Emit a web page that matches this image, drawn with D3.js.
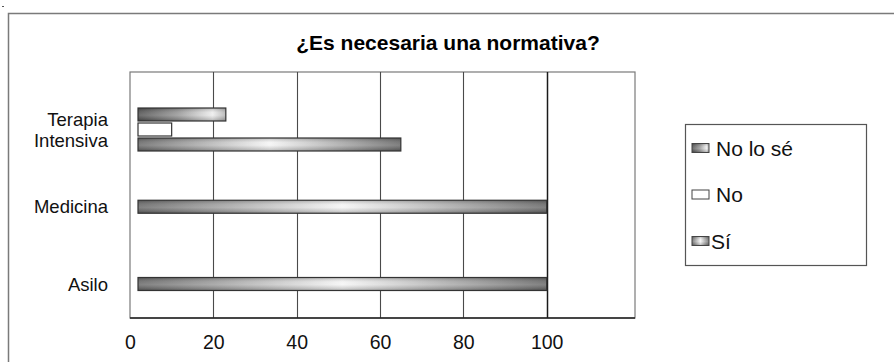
<!DOCTYPE html>
<html>
<head>
<meta charset="utf-8">
<script src="https://cdn.jsdelivr.net/npm/d3@7"></script>
<style>
  html, body { margin: 0; padding: 0; background: #fff; }
  svg { display: block; font-family: "Liberation Sans", Arial, sans-serif; }
</style>
</head>
<body>
<svg id="chart" width="894" height="362"></svg>
<script>
// Survey answers per ward (percent)
const categories = ["Terapia Intensiva", "Medicina", "Asilo"];
const seriesNames = ["No lo sé", "No", "Sí"];
const noLoSe = [23, 0, 0];
const noValues = [10, 0, 0];
const siValues = [65, 100, 100];
const xTicks = [0, 20, 40, 60, 80, 100];
const title = "¿Es necesaria una normativa?";

const seriesValues = [noLoSe, noValues, siValues];

const svg = d3.select("#chart");
const W = 894, H = 362;

// plot frame
const plot = { left: 130, top: 72, right: 635, bottom: 318 };

// gradients for the bar fills
const defs = svg.append("defs");
const gSi = defs.append("linearGradient").attr("id", "gradSi")
  .attr("x1", "0").attr("x2", "1").attr("y1", "0").attr("y2", "0");
[[0, "#666666"], [0.22, "#a4a4a4"], [0.5, "#f4f4f4"], [0.78, "#a4a4a4"], [1, "#666666"]]
  .forEach(([o, c]) => gSi.append("stop").attr("offset", o).attr("stop-color", c));

const gNs = defs.append("linearGradient").attr("id", "gradNs")
  .attr("x1", "0").attr("x2", "1").attr("y1", "0").attr("y2", "0");
[[0, "#4e4e4e"], [0.45, "#939393"], [0.85, "#ececec"], [1, "#b0b0b0"]]
  .forEach(([o, c]) => gNs.append("stop").attr("offset", o).attr("stop-color", c));

// vertical shading for a rounded look
const gShade = defs.append("linearGradient").attr("id", "gradShade")
  .attr("x1", "0").attr("x2", "0").attr("y1", "0").attr("y2", "1");
[[0, "#000", 0.22], [0.35, "#fff", 0.12], [0.55, "#fff", 0.18], [1, "#000", 0.25]]
  .forEach(([o, c, a]) => gShade.append("stop").attr("offset", o)
    .attr("stop-color", c).attr("stop-opacity", a));

const fills = { "No lo sé": "url(#gradNs)", "No": "#ffffff", "Sí": "url(#gradSi)" };

// outer chart border (runs off the right and bottom)
svg.append("rect")
  .attr("x", 8.5).attr("y", 13.5)
  .attr("width", W + 20).attr("height", H + 20)
  .attr("fill", "none").attr("stroke", "#7a7a7a").attr("stroke-width", 1.5);

// small speck at top-left corner
svg.append("rect").attr("x", 2).attr("y", 6).attr("width", 2).attr("height", 1).attr("fill", "#555");

// title
svg.append("text")
  .attr("x", 448).attr("y", 50)
  .attr("text-anchor", "middle")
  .attr("font-size", 21).attr("font-weight", "bold").attr("fill", "#000")
  .text(title);

// scales
const x = d3.scaleLinear().domain([0, 120]).range([plot.left, plot.right - 5]);
const y = d3.scalePoint().domain(categories).range([129.5, 284]);

// plot area border
svg.append("rect")
  .attr("x", plot.left).attr("y", plot.top)
  .attr("width", plot.right - plot.left).attr("height", plot.bottom - plot.top)
  .attr("fill", "#fff").attr("stroke", "#7a7a7a").attr("stroke-width", 1.2);

// vertical gridlines
svg.append("g").selectAll("line")
  .data(xTicks.filter(d => d > 0))
  .join("line")
  .attr("x1", d => Math.round(x(d)) + 0.5).attr("x2", d => Math.round(x(d)) + 0.5)
  .attr("y1", plot.top).attr("y2", plot.bottom)
  .attr("stroke", d => d === 100 ? "#1a1a1a" : "#4a4a4a")
  .attr("stroke-width", d => d === 100 ? 1.5 : 1.1);

// x axis
const xAxis = d3.axisBottom(x).tickValues(xTicks).tickSize(0).tickPadding(17);
const gx = svg.append("g")
  .attr("transform", `translate(0,${plot.bottom})`)
  .call(xAxis);
gx.select(".domain").attr("stroke", "#222").attr("stroke-width", 1.5)
  .attr("d", `M${plot.left},0H${plot.right}`);
gx.selectAll("text")
  .attr("font-size", 19.5).attr("fill", "#111")
  .attr("font-family", "'Liberation Sans', Arial, sans-serif");

// category labels (left), wrapped on spaces when two words
const catG = svg.append("g");
categories.forEach(c => {
  const words = c.split(" ");
  const lineH = 21;
  const t = catG.append("text")
    .attr("text-anchor", "end")
    .attr("font-size", 18.5).attr("fill", "#111");
  words.forEach((w, i) => {
    t.append("tspan")
      .attr("x", 108)
      .attr("y", y(c) + 6.5 + (i - (words.length - 1) / 2) * lineH)
      .text(w);
  });
});

// bars: the non-zero series of each category are centred on it
const barH = 13, slot = 15, barInset = 8;
const barsG = svg.append("g");
categories.forEach((c, ci) => {
  const present = seriesNames
    .map((s, si) => ({ s, v: seriesValues[si][ci] }))
    .filter(d => d.v > 0);
  const sub = d3.scaleBand()
    .domain(present.map(d => d.s))
    .range([y(c) - present.length * slot / 2, y(c) + present.length * slot / 2]);
  present.forEach(d => {
    const yy = sub(d.s) + (slot - barH) / 2;
    const x0 = x(0) + barInset;
    const w = x(d.v) - x0;
    barsG.append("rect")
      .attr("x", x0).attr("y", yy).attr("width", w).attr("height", barH)
      .attr("fill", fills[d.s]).attr("stroke", "none");
    if (d.s !== "No") {
      barsG.append("rect")
        .attr("x", x0).attr("y", yy).attr("width", w).attr("height", barH)
        .attr("fill", "url(#gradShade)");
    }
    barsG.append("rect")
      .attr("x", x0).attr("y", yy).attr("width", w).attr("height", barH)
      .attr("fill", "none").attr("stroke", "#333").attr("stroke-width", 1.2);
  });
});

// legend
const legend = svg.append("g");
legend.append("rect")
  .attr("x", 685.5).attr("y", 124.5).attr("width", 181).attr("height", 141)
  .attr("fill", "#fff").attr("stroke", "#555").attr("stroke-width", 1.2);
const legendY = d3.scalePoint().domain(seriesNames).range([148, 241]);
seriesNames.forEach(s => {
  const cy = legendY(s);
  legend.append("rect")
    .attr("x", 692).attr("y", cy - 4.5).attr("width", 17).attr("height", 9)
    .attr("fill", fills[s]);
  if (s !== "No") {
    legend.append("rect")
      .attr("x", 692).attr("y", cy - 4.5).attr("width", 17).attr("height", 9)
      .attr("fill", "url(#gradShade)");
  }
  legend.append("rect")
    .attr("x", 692).attr("y", cy - 4.5).attr("width", 17).attr("height", 9)
    .attr("fill", "none").attr("stroke", "#444").attr("stroke-width", 1);
  legend.append("text")
    .attr("x", s === "Sí" ? 711 : 716).attr("y", cy + 7.5)
    .attr("font-size", 21).attr("fill", "#111")
    .text(s);
});
</script>
</body>
</html>
